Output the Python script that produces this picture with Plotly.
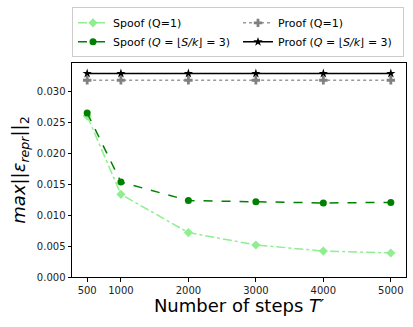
import plotly.graph_objects as go

steps = [500, 1000, 2000, 3000, 4000, 5000]
spoof_q1 = [0.0261, 0.0134, 0.0072, 0.0052, 0.0042, 0.0039]
spoof_q3 = [0.0266, 0.0154, 0.0124, 0.0122, 0.0120, 0.0121]
proof_q1 = [0.0319, 0.0319, 0.0319, 0.0319, 0.0319, 0.0319]
proof_q3 = [0.0330, 0.0330, 0.0330, 0.0330, 0.0330, 0.0330]

y_ticks = [0.000, 0.005, 0.010, 0.015, 0.020, 0.025, 0.030]

fig = go.Figure()
fig.add_trace(go.Scatter(
    x=steps, y=spoof_q1, name="Spoof (Q=1)", mode="lines+markers",
    line=dict(color="#90ee90", dash="dashdot", width=1.5),
    marker=dict(symbol="diamond", size=7, color="#90ee90"),
))
fig.add_trace(go.Scatter(
    x=steps, y=proof_q1, name="Proof (Q=1)", mode="lines+markers",
    line=dict(color="#999999", dash="dot", width=1.5),
    marker=dict(symbol="cross", size=7, color="#808080"),
))
fig.add_trace(go.Scatter(
    x=steps, y=spoof_q3, name="Spoof (<i>Q</i> = ⌊<i>S/k</i>⌋ = 3)", mode="lines+markers",
    line=dict(color="#008000", dash="dash", width=1.5),
    marker=dict(symbol="circle", size=7, color="#008000"),
))
fig.add_trace(go.Scatter(
    x=steps, y=proof_q3, name="Proof (<i>Q</i> = ⌊<i>S/k</i>⌋ = 3)", mode="lines+markers",
    line=dict(color="#000000", width=1.5),
    marker=dict(symbol="star", size=7, color="#000000"),
))

axis_common = dict(
    showline=True, linecolor="black", linewidth=1, mirror=True,
    ticks="outside", ticklen=3.5, tickcolor="black",
    showgrid=False, zeroline=False,
    tickfont=dict(size=10, color="#222"),
)

fig.update_layout(
    width=413, height=327,
    margin=dict(l=72, r=7, t=57, b=50),
    paper_bgcolor="white", plot_bgcolor="white",
    font=dict(family="DejaVu Sans", color="black"),
    showlegend=True,
    legend=dict(
        orientation="h", x=0, xanchor="left", y=1.26, yanchor="top",
        entrywidth=120, bordercolor="#cccccc", borderwidth=1,
        font=dict(size=11), tracegroupgap=0,
    ),
)
fig.update_xaxes(
    range=[275, 5225], tickvals=steps,
    title=dict(text="Number of steps <i>T′</i>", font=dict(size=18), standoff=4),
    **axis_common,
)
fig.update_yaxes(
    range=[0, 0.0347], tickvals=y_ticks, tickformat=".3f",
    title=dict(text="<i>max</i>||<i>ε<sub>repr</sub></i>||<sub>2</sub>", font=dict(size=18), standoff=6),
    **axis_common,
)

fig.write_html(
    "out.html",
    config={"displayModeBar": False},
    post_script="document.body.style.margin='0';",
)
